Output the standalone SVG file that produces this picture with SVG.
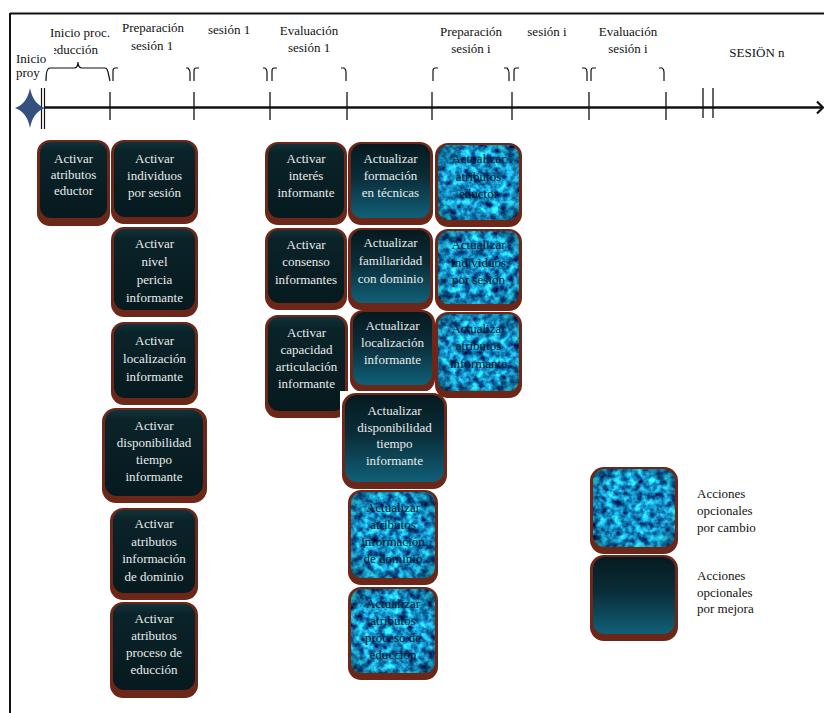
<svg xmlns="http://www.w3.org/2000/svg" width="824" height="713" viewBox="0 0 824 713">
<style>
.lbl{font-family:"Liberation Serif","Times New Roman",serif;font-size:13px;fill:#111}
.t{font-family:"Liberation Serif","Times New Roman",serif;font-size:13px;fill:#e8ecec;text-anchor:middle}
.tt{font-family:"Liberation Serif","Times New Roman",serif;font-size:13px;fill:#041a28;text-anchor:middle}
.br{fill:#6c2719}
.ak{fill:url(#gAk)}
.up{fill:url(#gUp)}
.tx{fill:#1aa0d8}
.vg{fill:url(#gVg)}
.ln{stroke:#111;fill:none}
</style>
<defs>
<linearGradient id="gAk" x1="0" y1="0" x2="0" y2="1">
<stop offset="0" stop-color="#12323a"/>
<stop offset="0.12" stop-color="#0a2329"/>
<stop offset="1" stop-color="#061a1f"/>
</linearGradient>
<linearGradient id="gUp" x1="0" y1="0" x2="0" y2="1">
<stop offset="0" stop-color="#061a20"/>
<stop offset="0.45" stop-color="#0a2d38"/>
<stop offset="1" stop-color="#106078"/>
</linearGradient>
<radialGradient id="gVg" cx="0.5" cy="0.5" r="0.7">
<stop offset="0.6" stop-color="#002030" stop-opacity="0"/>
<stop offset="1" stop-color="#002030" stop-opacity="0.5"/>
</radialGradient>
<filter id="tex" x="0" y="0" width="1" height="1" color-interpolation-filters="sRGB">
<feTurbulence type="fractalNoise" baseFrequency="0.14" numOctaves="3" seed="7" result="n"/>
<feColorMatrix in="n" type="matrix" values="0.4 0 0 0 -0.12  1.6 0 0 0 -0.24  1.5 0 0 0 0.02  0 0 0 0 1" result="c"/>
<feComposite in="c" in2="SourceGraphic" operator="in"/>
</filter>
<clipPath id="clipEd"><rect x="54" y="40" width="60" height="20"/></clipPath>
</defs>

<rect x="0" y="0" width="824" height="713" fill="#fff"/>

<!-- frame -->
<g id="frame">
<line x1="10" y1="13.5" x2="824" y2="13.5" stroke="#111" stroke-width="2"/>
<line x1="10" y1="13" x2="10" y2="713" stroke="#111" stroke-width="2"/>
</g>

<!-- timeline (connectors) -->
<g id="timeline">
<line x1="44" y1="107.5" x2="822" y2="107.5" stroke="#111" stroke-width="2.5"/>
<polyline points="817,101.5 823,107.5 817,113.5" class="ln" stroke-width="2.2"/>
<line x1="41.5" y1="88" x2="41.5" y2="129" stroke="#111" stroke-width="1.2"/>
<line x1="44.5" y1="88" x2="44.5" y2="129" stroke="#111" stroke-width="1.2"/>
<g stroke="#111" stroke-width="1.3">
<line x1="110" y1="92" x2="110" y2="120"/>
<line x1="194" y1="92" x2="194" y2="120"/>
<line x1="270" y1="92" x2="270" y2="120"/>
<line x1="347" y1="92" x2="347" y2="120"/>
<line x1="432" y1="92" x2="432" y2="120"/>
<line x1="512" y1="92" x2="512" y2="120"/>
<line x1="589" y1="92" x2="589" y2="120"/>
<line x1="666" y1="92" x2="666" y2="120"/>
<line x1="703" y1="88" x2="703" y2="118"/>
<line x1="713" y1="88" x2="713" y2="118"/>
</g>
<g class="ln" stroke-width="1.2">
<path d="M46,81 Q46,68 50,68 L74,68 Q78,68 78,62 Q78,68 82,68 L105,68 Q107,68 108,72 L110,81"/>
<path d="M118,68 L115,68 Q113,68 113,71 L113,81"/>
<path d="M186,68 L188,68 Q190,70 190,73 L190,81"/>
<path d="M199,68 L196,68 Q194,68 194,71 L194,81"/>
<path d="M263,68 L265,68 Q267,69 267,72 L267,81"/>
<path d="M277,68 L274,68 Q272,68 272,71 L272,81"/>
<path d="M341,68 L344,68 Q346,69 346,72 L346,81"/>
<path d="M438,68 L435,68 Q433,68 433,71 L433,81"/>
<path d="M504,68 L507,68 Q509,70 509,73 L509,81"/>
<path d="M519,68 L516,68 Q514,68 514,71 L514,81"/>
<path d="M582,68 L585,68 Q587,69 587,72 L587,81"/>
<path d="M596,68 L593,68 Q591,68 591,71 L591,81"/>
<path d="M659,68 L662,68 Q664,69 664,72 L664,81"/>
</g>
<path d="M30,88 Q33,104 45,108 Q33,112 30,128 Q27,112 15,108 Q27,104 30,88 Z" fill="#34507e"/>
</g>

<!-- timeline labels -->
<g id="labels" class="lbl">
<text x="16" y="63">Inicio</text>
<text x="16" y="77">proy</text>
<text x="50" y="37">Inicio proc.</text>
<text x="51" y="54" clip-path="url(#clipEd)">educción</text>
<text x="153" y="32" text-anchor="middle">Preparación</text>
<text x="152" y="50" text-anchor="middle">sesión 1</text>
<text x="229" y="34" text-anchor="middle">sesión 1</text>
<text x="309" y="35" text-anchor="middle">Evaluación</text>
<text x="309" y="52" text-anchor="middle">sesión 1</text>
<text x="471" y="36" text-anchor="middle">Preparación</text>
<text x="471" y="53" text-anchor="middle">sesión i</text>
<text x="547" y="36" text-anchor="middle">sesión i</text>
<text x="628" y="36" text-anchor="middle">Evaluación</text>
<text x="628" y="53" text-anchor="middle">sesión i</text>
<text x="757" y="57" text-anchor="middle">SESIÖN n</text>
</g>

<!-- column A -->
<g id="n-act-atr-eductor">
<rect class="br" x="37" y="140" width="73" height="86" rx="13"/>
<rect class="ak" x="40" y="142" width="67" height="76" rx="11"/>
<text class="t" x="73.5" y="163">Activar</text>
<text class="t" x="73.5" y="179">atributos</text>
<text class="t" x="73.5" y="195">eductor</text>
</g>

<!-- column B -->
<g id="n-act-individuos">
<rect class="br" x="111" y="140" width="87" height="84" rx="13"/>
<rect class="ak" x="114" y="142" width="81" height="75" rx="11"/>
<text class="t" x="154.5" y="163">Activar</text>
<text class="t" x="154.5" y="180">individuos</text>
<text class="t" x="154.5" y="197">por sesión</text>
</g>
<g id="n-act-pericia">
<rect class="br" x="111" y="227" width="87" height="90" rx="13"/>
<rect class="ak" x="114" y="229" width="81" height="81" rx="11"/>
<text class="t" x="154.5" y="248">Activar</text>
<text class="t" x="154.5" y="266">nivel</text>
<text class="t" x="154.5" y="284">pericia</text>
<text class="t" x="154.5" y="302">informante</text>
</g>
<g id="n-act-localizacion">
<rect class="br" x="111" y="322" width="87" height="83" rx="13"/>
<rect class="ak" x="114" y="324" width="81" height="74" rx="11"/>
<text class="t" x="154.5" y="345">Activar</text>
<text class="t" x="154.5" y="363">localización</text>
<text class="t" x="154.5" y="381">informante</text>
</g>
<g id="n-act-disponibilidad">
<rect class="br" x="102" y="408" width="105" height="95" rx="14"/>
<rect class="ak" x="105" y="410" width="98" height="86" rx="12"/>
<text class="t" x="154" y="430">Activar</text>
<text class="t" x="154" y="447">disponibilidad</text>
<text class="t" x="154" y="464">tiempo</text>
<text class="t" x="154" y="481">informante</text>
</g>
<g id="n-act-dominio">
<rect class="br" x="110" y="508" width="88" height="92" rx="13"/>
<rect class="ak" x="113" y="510" width="82" height="83" rx="11"/>
<text class="t" x="154" y="528">Activar</text>
<text class="t" x="154" y="545.5">atributos</text>
<text class="t" x="154" y="563">información</text>
<text class="t" x="154" y="580.5">de dominio</text>
</g>
<g id="n-act-proceso">
<rect class="br" x="110" y="602" width="88" height="96" rx="13"/>
<rect class="ak" x="113" y="604" width="82" height="86" rx="11"/>
<text class="t" x="154" y="623">Activar</text>
<text class="t" x="154" y="640">atributos</text>
<text class="t" x="154" y="657">proceso de</text>
<text class="t" x="154" y="674">educción</text>
</g>

<!-- column C -->
<g id="n-act-interes">
<rect class="br" x="265" y="142" width="82" height="83" rx="13"/>
<rect class="ak" x="268" y="144" width="76" height="74" rx="11"/>
<text class="t" x="306" y="163">Activar</text>
<text class="t" x="306" y="180">interés</text>
<text class="t" x="306" y="197">informante</text>
</g>
<g id="n-act-consenso">
<rect class="br" x="265" y="228" width="82" height="82" rx="13"/>
<rect class="ak" x="268" y="230" width="76" height="73" rx="11"/>
<text class="t" x="306" y="249">Activar</text>
<text class="t" x="306" y="266">consenso</text>
<text class="t" x="306" y="284">informantes</text>
</g>
<g id="n-act-capacidad">
<rect class="br" x="265" y="315" width="83" height="103" rx="13"/>
<rect class="ak" x="268" y="317" width="77" height="94" rx="11"/>
<text class="t" x="306.5" y="337">Activar</text>
<text class="t" x="306.5" y="354">capacidad</text>
<text class="t" x="306.5" y="371">articulación</text>
<text class="t" x="306.5" y="388">informante</text>
</g>

<!-- column D -->
<g id="n-upd-formacion">
<rect class="br" x="348" y="142" width="85" height="83" rx="13"/>
<rect class="up" x="351" y="144" width="79" height="74" rx="11"/>
<text class="t" x="390.5" y="163">Actualizar</text>
<text class="t" x="390.5" y="180">formación</text>
<text class="t" x="390.5" y="197">en técnicas</text>
</g>
<g id="n-upd-familiaridad">
<rect class="br" x="348" y="228" width="85" height="82" rx="13"/>
<rect class="up" x="351" y="230" width="79" height="73" rx="11"/>
<text class="t" x="390.5" y="247">Actualizar</text>
<text class="t" x="390.5" y="265">familiaridad</text>
<text class="t" x="390.5" y="283">con dominio</text>
</g>
<g id="n-upd-localizacion">
<rect class="br" x="350" y="310" width="85" height="82" rx="13"/>
<rect class="up" x="353" y="312" width="79" height="73" rx="11"/>
<text class="t" x="392.5" y="330">Actualizar</text>
<text class="t" x="392.5" y="347">localización</text>
<text class="t" x="392.5" y="364">informante</text>
</g>
<g id="n-upd-disponibilidad">
<rect x="340" y="391" width="107" height="99" fill="#fff"/>
<rect class="br" x="342" y="393" width="105" height="96" rx="14"/>
<rect class="up" x="345" y="395" width="99" height="87" rx="12"/>
<text class="t" x="394.5" y="415">Actualizar</text>
<text class="t" x="394.5" y="432">disponibilidad</text>
<text class="t" x="394.5" y="448">tiempo</text>
<text class="t" x="394.5" y="465">informante</text>
</g>
<g id="n-upd-dominio">
<rect class="br" x="348" y="490" width="90" height="95" rx="13"/>
<rect class="tx" x="351" y="492" width="84" height="86" rx="11" filter="url(#tex)"/>
<rect class="vg" x="351" y="492" width="84" height="86" rx="11"/>
<text class="tt" x="393" y="512">Actualizar</text>
<text class="tt" x="393" y="529">atributos</text>
<text class="tt" x="393" y="546">información</text>
<text class="tt" x="393" y="563">de dominio</text>
</g>
<g id="n-upd-proceso">
<rect class="br" x="348" y="587" width="90" height="93" rx="13"/>
<rect class="tx" x="351" y="589" width="84" height="84" rx="11" filter="url(#tex)"/>
<rect class="vg" x="351" y="589" width="84" height="84" rx="11"/>
<text class="tt" x="393" y="608">Actualizar</text>
<text class="tt" x="393" y="625">atributos</text>
<text class="tt" x="393" y="642">proceso de</text>
<text class="tt" x="393" y="659">educción</text>
</g>

<!-- column E -->
<g id="n-upd-atr-eductor">
<rect class="br" x="435" y="143" width="87" height="84" rx="13"/>
<rect class="tx" x="438" y="145" width="81" height="75" rx="11" filter="url(#tex)"/>
<rect class="vg" x="438" y="145" width="81" height="75" rx="11"/>
<text class="tt" x="478.5" y="163">Actualizar</text>
<text class="tt" x="478.5" y="181">atributos</text>
<text class="tt" x="478.5" y="198">eductor</text>
</g>
<g id="n-upd-individuos">
<rect class="br" x="435" y="229" width="87" height="82" rx="13"/>
<rect class="tx" x="438" y="231" width="81" height="73" rx="11" filter="url(#tex)"/>
<rect class="vg" x="438" y="231" width="81" height="73" rx="11"/>
<text class="tt" x="478.5" y="249">Actualizar</text>
<text class="tt" x="478.5" y="267">individuos</text>
<text class="tt" x="478.5" y="284">por sesión</text>
</g>
<g id="n-upd-atr-informante">
<rect class="br" x="435" y="312" width="87" height="86" rx="13"/>
<rect class="tx" x="438" y="314" width="81" height="77" rx="11" filter="url(#tex)"/>
<rect class="vg" x="438" y="314" width="81" height="77" rx="11"/>
<text class="tt" x="478.5" y="333">Actualizar</text>
<text class="tt" x="478.5" y="350">atributos</text>
<text class="tt" x="478.5" y="368">informante</text>
</g>

<!-- legend -->
<g id="legend-cambio">
<rect class="br" x="590" y="467" width="88" height="87" rx="14"/>
<rect class="tx" x="593" y="469" width="82" height="78" rx="12" filter="url(#tex)"/>
<rect class="vg" x="593" y="469" width="82" height="78" rx="12"/>
<text class="lbl" x="697" y="498">Acciones</text>
<text class="lbl" x="697" y="515">opcionales</text>
<text class="lbl" x="697" y="532">por cambio</text>
</g>
<g id="legend-mejora">
<rect class="br" x="590" y="555" width="88" height="86" rx="14"/>
<rect class="up" x="593" y="557" width="82" height="77" rx="12"/>
<text class="lbl" x="697" y="580">Acciones</text>
<text class="lbl" x="697" y="597">opcionales</text>
<text class="lbl" x="697" y="613">por mejora</text>
</g>
</svg>
